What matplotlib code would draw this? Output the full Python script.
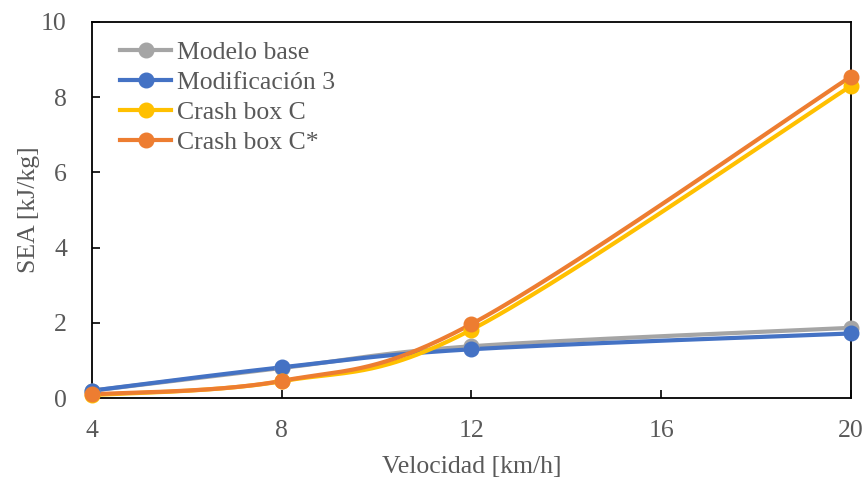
import numpy as np
import matplotlib
matplotlib.use("Agg")
import matplotlib.pyplot as plt
from matplotlib.lines import Line2D

velocidad = [4, 8, 12, 20]
modelo_base = [0.20, 0.80, 1.38, 1.87]
modificacion_3 = [0.20, 0.82, 1.30, 1.72]
crash_box_c = [0.08, 0.45, 1.82, 8.30]
crash_box_c_star = [0.10, 0.46, 1.97, 8.55]

series = [
    ("Modelo base", modelo_base, "#A5A5A5"),
    ("Modificación 3", modificacion_3, "#4472C4"),
    ("Crash box C", crash_box_c, "#FFC000"),
    ("Crash box C*", crash_box_c_star, "#ED7D31"),
]

def smooth(x, y, n=60):
    x = np.asarray(x, float); y = np.asarray(y, float)
    P = np.column_stack([x, y])
    Pe = np.vstack([P[0], P, P[-1]])
    out = []
    for i in range(len(P) - 1):
        p0, p1, p2, p3 = Pe[i], Pe[i + 1], Pe[i + 2], Pe[i + 3]
        c1 = p1 + (p2 - p0) / 6.0
        c2 = p2 - (p3 - p1) / 6.0
        t = np.linspace(0, 1, n)[:, None]
        b = ((1 - t) ** 3) * p1 + 3 * ((1 - t) ** 2) * t * c1 + 3 * (1 - t) * t ** 2 * c2 + t ** 3 * p2
        out.append(b if i == 0 else b[1:])
    B = np.vstack(out)
    return B[:, 0], B[:, 1]

plt.rcParams['font.family'] = ['Liberation Serif', 'DejaVu Serif']
fig = plt.figure(figsize=(8.67, 4.78), dpi=100)
ax = fig.add_axes([0.106, 0.167, 0.8755, 0.787])

FS = 18.5
handles = []
for name, vals, col in series:
    sx, sy = smooth(velocidad, vals)
    ax.plot(sx, sy, color=col, lw=3.0, solid_capstyle='round', zorder=2)
    ax.plot(velocidad, vals, 'o', color=col, ms=10.5, zorder=3, clip_on=False)
    handles.append(Line2D([0], [0], color=col, lw=3.0, marker='o', ms=10.5, label=name))

ax.set_xlim(4, 20)
ax.set_ylim(0, 10)
ax.set_xticks([4, 8, 12, 16, 20])
ax.set_yticks([0, 2, 4, 6, 8, 10])
txtc = '#595959'
ax.tick_params(direction='in', length=6, width=1.2, colors='black', labelcolor=txtc, labelsize=FS)
ax.tick_params(axis='x', pad=15.5)
ax.tick_params(axis='y', pad=18)
for s in ax.spines.values():
    s.set_color('black'); s.set_linewidth(1.3)
ax.set_xlabel("Velocidad [km/h]", fontsize=FS, color=txtc, labelpad=10)
ax.set_ylabel("SEA [kJ/kg]", fontsize=FS, color=txtc, labelpad=1)

leg = ax.legend(handles=handles, loc='upper left', bbox_to_anchor=(0.037, 0.95), frameon=False,
                fontsize=FS, handlelength=2.0, handletextpad=0.2, labelspacing=0.28,
                borderaxespad=0, borderpad=0)
for t in leg.get_texts():
    t.set_color(txtc)

fig.savefig("out.png", dpi=100)
